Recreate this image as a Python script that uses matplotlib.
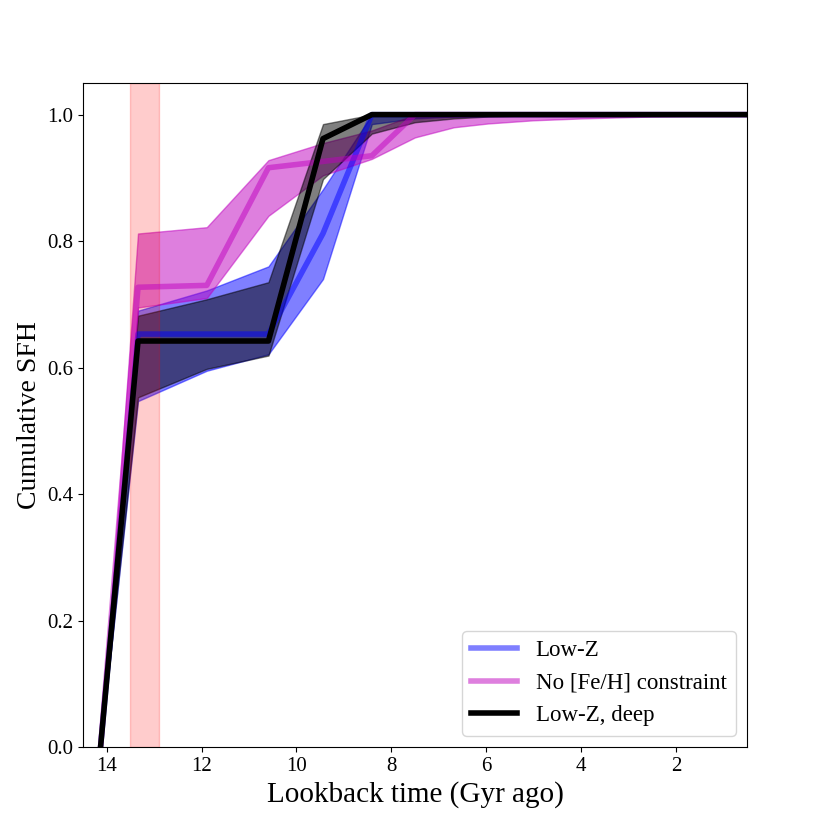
import matplotlib.pyplot as plt

plt.rcParams['font.family'] = ['Liberation Serif', 'DejaVu Serif']
plt.rcParams['mathtext.fontset'] = 'stix'

# lookback time grid (Gyr)
ages = [14.13, 13.34, 11.89, 10.59, 9.44, 8.41, 7.50, 6.68, 5.96, 5.01, 3.98, 2.51, 1.0, 0.1]

# Low-Z
lowz_med = [0, 0.653, 0.653, 0.653, 0.812, 1.0, 1.0, 1.0, 1.0, 1.0, 1.0, 1.0, 1.0, 1.0]
lowz_lo = [0, 0.547, 0.595, 0.621, 0.740, 0.985, 0.994, 0.997, 0.998, 0.999, 1.0, 1.0, 1.0, 1.0]
lowz_hi = [0, 0.690, 0.722, 0.760, 0.882, 1.0, 1.0, 1.0, 1.0, 1.0, 1.0, 1.0, 1.0, 1.0]

# no [Fe/H] constraint
nofe_med = [0, 0.727, 0.730, 0.916, 0.926, 0.935, 1.0, 1.0, 1.0, 1.0, 1.0, 1.0, 1.0, 1.0]
nofe_lo = [0, 0.695, 0.710, 0.840, 0.904, 0.930, 0.964, 0.980, 0.986, 0.991, 0.994, 0.997, 0.999, 1.0]
nofe_hi = [0, 0.812, 0.822, 0.928, 0.955, 0.975, 1.0, 1.0, 1.0, 1.0, 1.0, 1.0, 1.0, 1.0]

# Low-Z, deep
deep_med = [0, 0.642, 0.642, 0.642, 0.962, 1.0, 1.0, 1.0, 1.0, 1.0, 1.0, 1.0, 1.0, 1.0]
deep_lo = [0, 0.553, 0.598, 0.619, 0.898, 0.970, 0.988, 0.994, 0.997, 0.999, 1.0, 1.0, 1.0, 1.0]
deep_hi = [0, 0.682, 0.708, 0.735, 0.985, 1.0, 1.0, 1.0, 1.0, 1.0, 1.0, 1.0, 1.0, 1.0]

# reionization band
reion = [12.9, 13.5]

fig = plt.figure(figsize=(8.3, 8.3), dpi=100)
ax = fig.add_subplot(111)
fig.subplots_adjust(left=0.1, right=0.9, top=0.9, bottom=0.1)

ax.fill_between(ages, lowz_lo, lowz_hi, color='b', alpha=0.5)
ax.plot(ages, lowz_med, color='b', alpha=0.5, lw=4, label='Low-Z')

ax.fill_between(ages, nofe_lo, nofe_hi, color='m', alpha=0.5)
ax.plot(ages, nofe_med, color='m', alpha=0.5, lw=4, label='No [Fe/H] constraint')

ax.fill_between(ages, deep_lo, deep_hi, color='k', alpha=0.5)
ax.plot(ages, deep_med, color='k', lw=4, label='Low-Z, deep')

ax.axvspan(reion[0], reion[1], color='r', alpha=0.2)

ax.set_xlim(14.5, 0.5)
ax.set_ylim(0, 1.05)
ax.set_xticks([14, 12, 10, 8, 6, 4, 2])
ax.set_yticks([0.0, 0.2, 0.4, 0.6, 0.8, 1.0])
ax.tick_params(labelsize=15)
ax.set_xlabel('Lookback time (Gyr ago)', fontsize=21)
ax.set_ylabel('Cumulative SFH', fontsize=20)
ax.legend(loc='lower right', fontsize=16.5)

fig.savefig('out.png')
